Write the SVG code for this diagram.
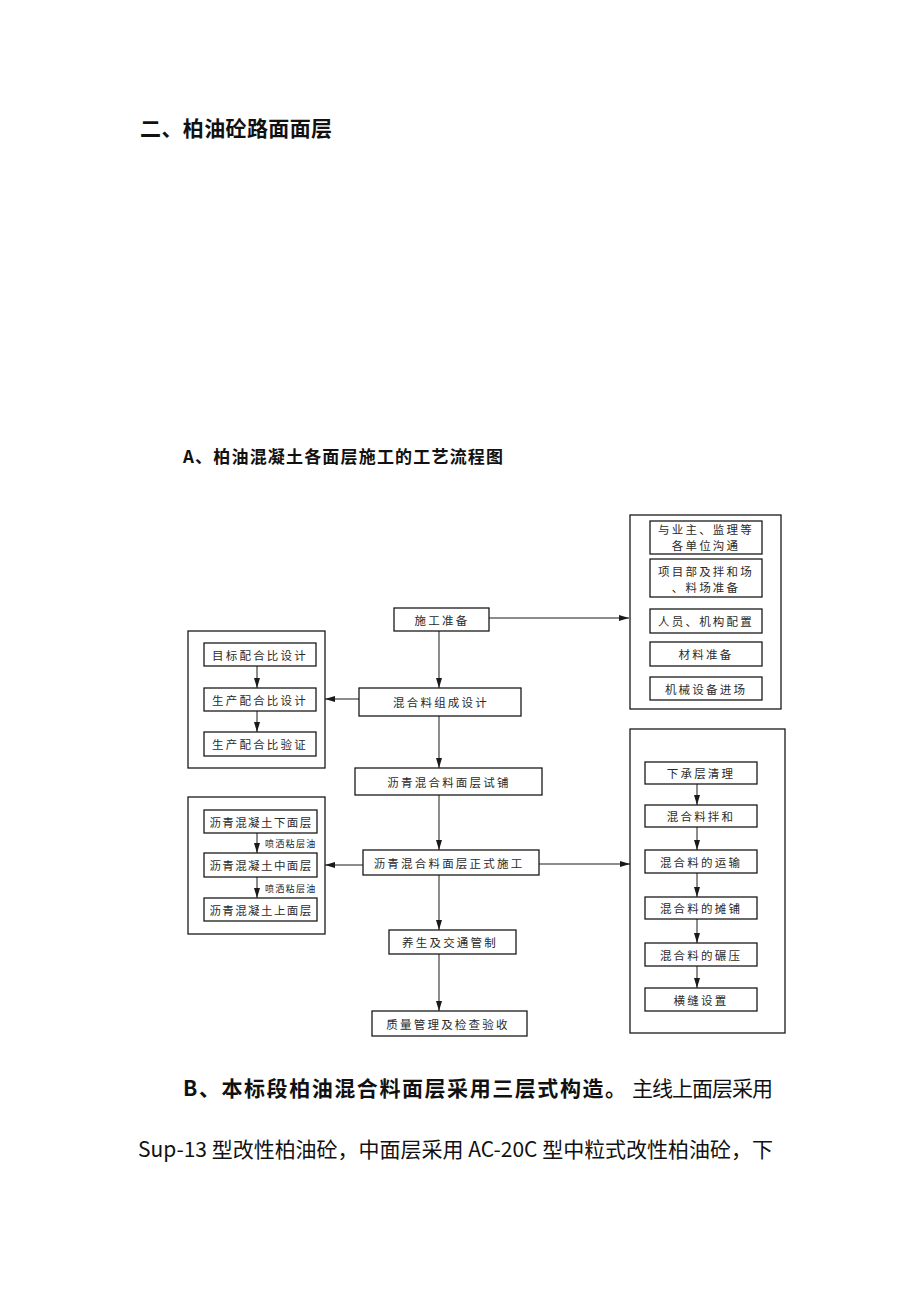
<svg xmlns="http://www.w3.org/2000/svg" width="920" height="1302" viewBox="0 0 920 1302">
<style>
.bg{fill:#fff}
.box{fill:#fff;stroke:#1a1a1a;stroke-width:1.3}
.frame{fill:none;stroke:#1a1a1a;stroke-width:1.3}
.t{font-family:"Noto Sans CJK SC",sans-serif;font-size:11.5px;letter-spacing:2.2px;fill:#2a2a2a;text-anchor:middle;dominant-baseline:central}
.s{font-family:"Noto Sans CJK SC",sans-serif;font-size:9px;letter-spacing:1.3px;fill:#222;dominant-baseline:central}
.ln{stroke:#1a1a1a;stroke-width:1;fill:none;marker-end:url(#ah)}
.h{font-family:"Noto Sans CJK SC",sans-serif;fill:#111;dominant-baseline:central}
</style>
<defs>
<marker id="ah" markerUnits="userSpaceOnUse" markerWidth="10" markerHeight="8" viewBox="0 0 10 8" refX="10" refY="4" orient="auto">
<path d="M0,1 L10,4 L0,7 Z" fill="#1a1a1a"/>
</marker>
</defs>
<rect class="bg" x="0" y="0" width="920" height="1302"/>

<g id="headings">
<text class="h" x="140" y="127" font-size="21" font-weight="bold" textLength="192" lengthAdjust="spacing">二、柏油砼路面面层</text>
<text class="h" x="183" y="455" font-size="17" font-weight="bold" textLength="320" lengthAdjust="spacing">A、柏油混凝土各面层施工的工艺流程图</text>
</g>

<g id="connectors">
<line class="ln" x1="489" y1="618" x2="629" y2="618"/>
<line class="ln" x1="439" y1="631" x2="439" y2="688"/>
<line class="ln" x1="359" y1="699" x2="325" y2="699"/>
<line class="ln" x1="439" y1="716" x2="439" y2="768"/>
<line class="ln" x1="439" y1="795" x2="439" y2="850"/>
<line class="ln" x1="363" y1="865" x2="325" y2="865"/>
<line class="ln" x1="539" y1="864" x2="630" y2="864"/>
<line class="ln" x1="439" y1="875" x2="439" y2="930"/>
<line class="ln" x1="439" y1="954" x2="439" y2="1011"/>
<line class="ln" x1="257" y1="666" x2="257" y2="688"/>
<line class="ln" x1="257" y1="711" x2="257" y2="732"/>
<line class="ln" x1="257" y1="833" x2="257" y2="853"/>
<line class="ln" x1="257" y1="877" x2="257" y2="898"/>
<line class="ln" x1="697" y1="784" x2="697" y2="805"/>
<line class="ln" x1="697" y1="827" x2="697" y2="850"/>
<line class="ln" x1="697" y1="873" x2="697" y2="897"/>
<line class="ln" x1="697" y1="919" x2="697" y2="943"/>
<line class="ln" x1="697" y1="966" x2="697" y2="988"/>
<text class="s" x="265" y="843">喷洒粘层油</text>
<text class="s" x="265" y="888">喷洒粘层油</text>
</g>

<g id="main-1"><rect class="box" x="394" y="608" width="95" height="23"/><text class="t" x="442" y="619.5">施工准备</text></g>
<g id="main-2"><rect class="box" x="359" y="688" width="162" height="28"/><text class="t" x="441" y="702">混合料组成设计</text></g>
<g id="main-3"><rect class="box" x="355" y="768" width="187" height="27"/><text class="t" x="449" y="781.5">沥青混合料面层试铺</text></g>
<g id="main-4"><rect class="box" x="363" y="850" width="176" height="25"/><text class="t" x="449" y="862.5">沥青混合料面层正式施工</text></g>
<g id="main-5"><rect class="box" x="389" y="930" width="127" height="24"/><text class="t" x="450" y="942">养生及交通管制</text></g>
<g id="main-6"><rect class="box" x="372" y="1011" width="155" height="25"/><text class="t" x="448" y="1023.5">质量管理及检查验收</text></g>

<g id="prep-group">
<rect class="frame" x="630" y="515" width="151" height="194"/>
<g id="prep-1"><rect class="box" x="650" y="521" width="112" height="33"/><text class="t" x="706" y="529">与业主、监理等</text><text class="t" x="706" y="545">各单位沟通</text></g>
<g id="prep-2"><rect class="box" x="650" y="559" width="112" height="38"/><text class="t" x="706" y="571">项目部及拌和场</text><text class="t" x="706" y="587">、料场准备</text></g>
<g id="prep-3"><rect class="box" x="650" y="609" width="112" height="24"/><text class="t" x="706" y="621">人员、机构配置</text></g>
<g id="prep-4"><rect class="box" x="650" y="642" width="112" height="24"/><text class="t" x="706" y="654">材料准备</text></g>
<g id="prep-5"><rect class="box" x="650" y="677" width="112" height="23"/><text class="t" x="706" y="688.5">机械设备进场</text></g>
</g>

<g id="mix-group">
<rect class="frame" x="188" y="631" width="137" height="137"/>
<g id="mix-1"><rect class="box" x="204" y="643" width="112" height="23"/><text class="t" x="260" y="654.5">目标配合比设计</text></g>
<g id="mix-2"><rect class="box" x="204" y="688" width="112" height="23"/><text class="t" x="260" y="699.5">生产配合比设计</text></g>
<g id="mix-3"><rect class="box" x="204" y="732" width="112" height="24"/><text class="t" x="260" y="744">生产配合比验证</text></g>
</g>

<g id="layer-group">
<rect class="frame" x="188" y="797" width="137" height="137"/>
<g id="layer-1"><rect class="box" x="204" y="810" width="113" height="23"/><text class="t" x="261" y="821.5" style="letter-spacing:1.4px">沥青混凝土下面层</text></g>
<g id="layer-2"><rect class="box" x="204" y="853" width="113" height="24"/><text class="t" x="261" y="865" style="letter-spacing:1.4px">沥青混凝土中面层</text></g>
<g id="layer-3"><rect class="box" x="204" y="898" width="113" height="23"/><text class="t" x="261" y="909.5" style="letter-spacing:1.4px">沥青混凝土上面层</text></g>
</g>

<g id="paving-group">
<rect class="frame" x="630" y="729" width="155" height="304"/>
<g id="pave-1"><rect class="box" x="645" y="762" width="112" height="22"/><text class="t" x="701" y="773">下承层清理</text></g>
<g id="pave-2"><rect class="box" x="645" y="805" width="112" height="22"/><text class="t" x="701" y="816">混合料拌和</text></g>
<g id="pave-3"><rect class="box" x="645" y="850" width="112" height="23"/><text class="t" x="701" y="861.5">混合料的运输</text></g>
<g id="pave-4"><rect class="box" x="645" y="897" width="112" height="22"/><text class="t" x="701" y="908">混合料的摊铺</text></g>
<g id="pave-5"><rect class="box" x="645" y="943" width="112" height="23"/><text class="t" x="701" y="954.5">混合料的碾压</text></g>
<g id="pave-6"><rect class="box" x="645" y="988" width="112" height="23"/><text class="t" x="701" y="999.5">横缝设置</text></g>
</g>

<g id="paragraph">
<text class="h" x="183" y="1087" font-size="21" font-weight="bold" textLength="443" lengthAdjust="spacing">B、本标段柏油混合料面层采用三层式构造。</text>
<text class="h" x="632" y="1087" font-size="21" textLength="141" lengthAdjust="spacing">主线上面层采用</text>
<text class="h" x="138" y="1148" font-size="21" textLength="635" lengthAdjust="spacing">Sup-13 型改性柏油砼，中面层采用 AC-20C 型中粒式改性柏油砼，下</text>
</g>
</svg>
